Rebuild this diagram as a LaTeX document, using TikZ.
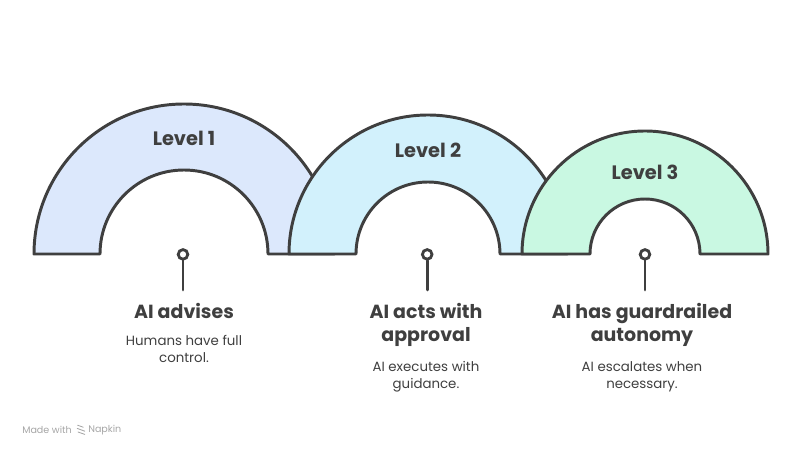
\documentclass[tikz,border=0pt]{standalone}
\usepackage{fontspec}
\setmainfont{Poppins}
\usetikzlibrary{positioning}
\definecolor{ink}{HTML}{3f3f3f}
\definecolor{levelA}{HTML}{DCE8FC}
\definecolor{levelB}{HTML}{D2F1FC}
\definecolor{levelC}{HTML}{C9F8E2}
\definecolor{wmgray}{HTML}{A6A6A6}

\begin{document}
\begin{tikzpicture}[
  arch/.style={draw=ink, line width=2.1pt, line join=round},
  lvl/.style={font=\fontsize{13.8}{15}\selectfont\bfseries, text=ink},
  pin/.style={circle, draw=ink, line width=2pt, fill=white, inner sep=0pt, minimum size=2.4mm},
  stem/.style={draw=ink, line width=2.1pt, line cap=round},
  head/.style={font=\fontsize{13.5}{16.3}\selectfont\bfseries, text=ink, align=center, anchor=north},
  desc/.style={font=\fontsize{9.5}{12.2}\selectfont, text=ink, align=center, anchor=north},
  wm/.style={font=\fontsize{6.8}{8}\selectfont, text=wmgray, inner sep=0pt}]
  \useasboundingbox (0,-5.05) rectangle (20,6.35);
  % arches, back to front
  \draw[arch, fill=levelA] (4.6,0) ++(180:3.75) arc[start angle=180, end angle=0, radius=3.75]
    -- ++(-1.65,0) arc[start angle=0, end angle=180, radius=2.1] -- cycle;
  \draw[arch, fill=levelB] (10.7,0) ++(180:3.475) arc[start angle=180, end angle=0, radius=3.475]
    -- ++(-1.675,0) arc[start angle=0, end angle=180, radius=1.8] -- cycle;
  \draw[arch, fill=levelC] (16.125,0) ++(180:3.075) arc[start angle=180, end angle=0, radius=3.075]
    -- ++(-1.7,0) arc[start angle=0, end angle=180, radius=1.375] -- cycle;
  % level labels
  \node[lvl] (lvlA) at (4.6,2.9) {Level 1};
  \node[lvl] (lvlB) at (10.7,2.58) {Level 2};
  \node[lvl] (lvlC) at (16.125,2.05) {Level 3};
  % pins
  \node[pin] (pinA) at (4.575,-0.01) {};
  \node[pin] (pinB) at (10.68,-0.01) {};
  \node[pin] (pinC) at (16.125,-0.01) {};
  \coordinate (tipA) at (4.575,-0.9);
  \coordinate (tipB) at (10.68,-0.9);
  \coordinate (tipC) at (16.125,-0.9);
  \draw[stem] (pinA.south) -- (tipA);
  \draw[stem] (pinB.south) -- (tipB);
  \draw[stem] (pinC.south) -- (tipC);
  % texts
  \node[head] (headA) at (4.6,-1.12) {AI advises};
  \node[desc, below=0.15 of headA] (descA) {Humans have full\\control.};
  \node[head] (headB) at (10.65,-1.12) {AI acts with\\approval};
  \node[desc, below=0.12 of headB] (descB) {AI executes with\\guidance.};
  \node[head] (headC) at (16.05,-1.12) {AI has guardrailed\\autonomy};
  \node[desc, below=0.12 of headC] (descC) {AI escalates when\\necessary.};
  % watermark
  \node[wm, anchor=west] (made) at (0.55,-4.4) {Made with};
  \node[wm, anchor=west] (napkin) at (2.2,-4.4) {Napkin};
  \draw[wmgray, line width=0.6pt, line cap=round]
    (1.94,-4.28) -- (2.08,-4.33) (1.93,-4.36) -- (2.12,-4.43) (1.95,-4.45) -- (2.12,-4.51);
\end{tikzpicture}
\end{document}
